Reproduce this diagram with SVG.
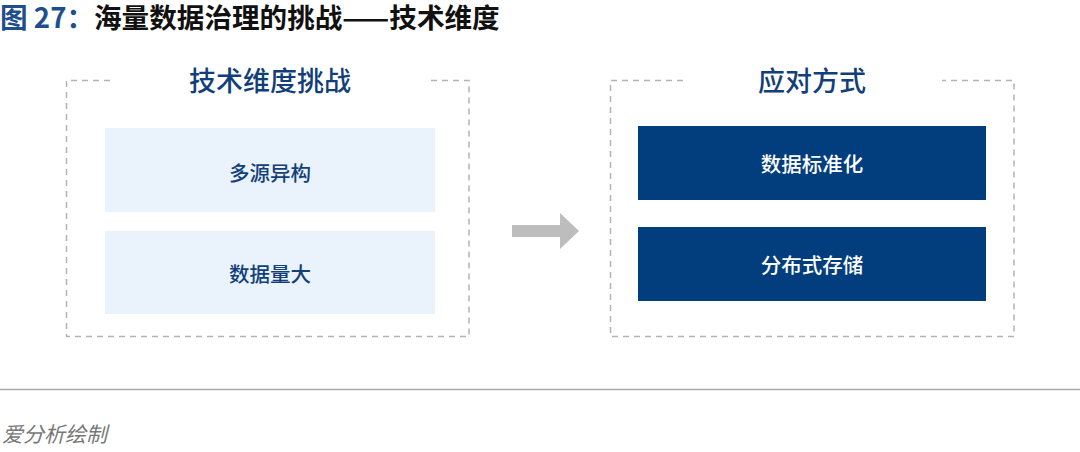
<svg xmlns="http://www.w3.org/2000/svg" width="1080" height="452" viewBox="0 0 1080 452">
<style>
.cjk{font-family:"Noto Sans CJK SC","Liberation Sans",sans-serif}
.frame{fill:none;stroke:#b3b3b3;stroke-width:1.5;stroke-dasharray:6 5}
.hdr{font-size:27px;fill:#123f7a;text-anchor:middle;font-weight:500}
.light{fill:#eaf3fc}
.dark{fill:#023e7d}
.lt{font-size:20.5px;fill:#123f7a;text-anchor:middle;dominant-baseline:central;font-weight:500}
.dt{font-size:20.5px;fill:#ffffff;text-anchor:middle;dominant-baseline:central;font-weight:500}
</style>
<rect width="1080" height="452" fill="#ffffff"/>
<text x="0" y="28" class="cjk" font-size="27.6" font-weight="bold"><tspan fill="#1f4e8c">图 27：</tspan><tspan fill="#111111">海量数据治理的挑战——技术维度</tspan></text>

<g id="left-group">
<path class="frame" d="M110,80.5 H66.5 V336.5 H469 V80.5 H430"/>
<text x="270" y="91" class="cjk hdr">技术维度挑战</text>
</g>
<g id="node-duoyuan">
<rect class="light" x="105" y="128" width="330" height="84"/>
<text x="270" y="172" class="cjk lt">多源异构</text>
</g>
<g id="node-shujuliang">
<rect class="light" x="105" y="231" width="330" height="83"/>
<text x="270" y="273" class="cjk lt">数据量大</text>
</g>

<g id="right-group">
<path class="frame" d="M683,80.5 H610.5 V336.5 H1014 V80.5 H942"/>
<text x="812" y="91" class="cjk hdr">应对方式</text>
</g>
<g id="node-biaozhunhua">
<rect class="dark" x="638" y="126" width="348" height="74"/>
<text x="812" y="163" class="cjk dt">数据标准化</text>
</g>
<g id="node-cunchu">
<rect class="dark" x="638" y="227" width="348" height="74"/>
<text x="812" y="264" class="cjk dt">分布式存储</text>
</g>

<g id="connectors">
<polygon points="512,225 560,225 560,213 579,231 560,249 560,237 512,237" fill="#bdbdbd"/>
</g>

<line x1="0" y1="389.5" x2="1080" y2="389.5" stroke="#aaaaaa" stroke-width="1.5"/>
<text x="2" y="442" class="cjk" font-size="21" font-style="italic" fill="#777777">爱分析绘制</text>
</svg>
